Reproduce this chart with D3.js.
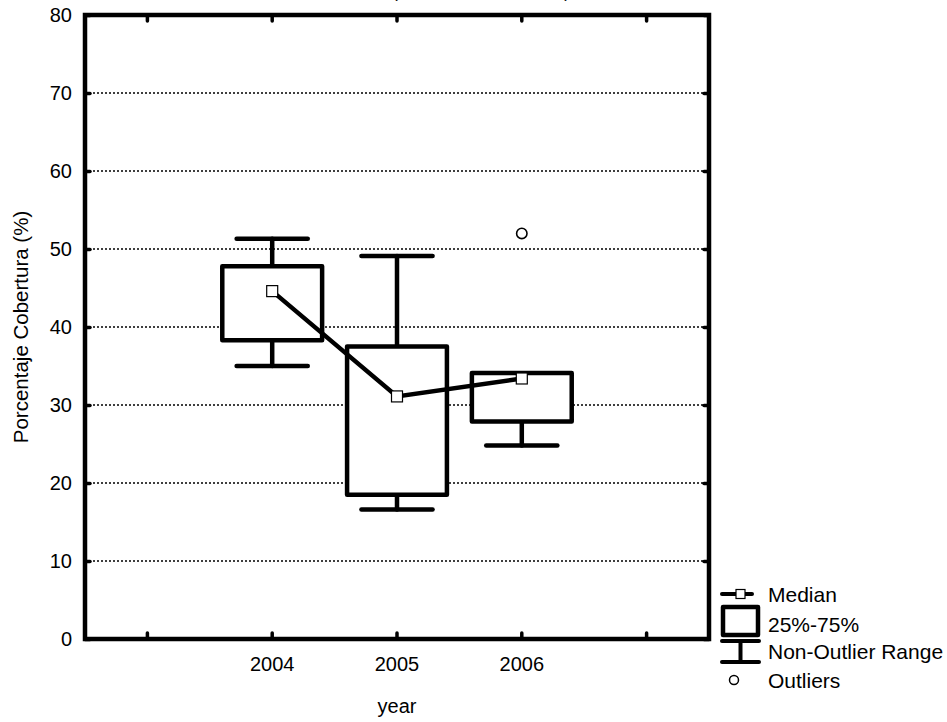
<!DOCTYPE html>
<html>
<head>
<meta charset="utf-8">
<script src="https://cdn.jsdelivr.net/npm/d3@7"></script>
<style>
  html, body { margin: 0; padding: 0; background: #fff; }
  svg { display: block; }
  text { font-family: "Liberation Sans", Arial, sans-serif; fill: #000; }
</style>
</head>
<body>
<svg id="chart" width="947" height="722"></svg>
<script>
// Box plot of coverage percentage by year
const years       = ["2004", "2005", "2006"];
const whiskerLow  = [35.0, 16.6, 24.8];
const q1          = [38.3, 18.5, 27.9];
const median      = [44.6, 31.1, 33.4];
const q3          = [47.8, 37.5, 34.1];
const whiskerHigh = [51.3, 49.1, 34.1];
const outlierYear  = ["2006"];
const outlierValue = [52.0];

const xSlots      = [0, 1, 2, 3, 4];
const xTickLabels = ["", "2004", "2005", "2006", ""];
const yTicks      = [0, 10, 20, 30, 40, 50, 60, 70, 80];
const gridTicks   = [10, 20, 30, 40, 50, 60, 70];
const legendItems = ["Median", "25%-75%", "Non-Outlier Range", "Outliers"];

const plot = { left: 85, right: 709, top: 15, bottom: 639 };

const svg = d3.select("#chart");

const x = d3.scaleBand().domain(xSlots).range([plot.left, plot.right]).padding(0);
const y = d3.scaleLinear().domain([0, 80]).range([plot.bottom, plot.top]);
const slotOf = yr => xTickLabels.indexOf(yr);
const cx = yr => x(slotOf(yr)) + x.bandwidth() / 2;

// heading above the plot, mostly beyond the top edge
svg.append("text")
  .attr("x", 392).attr("y", -2)
  .attr("font-size", 17)
  .attr("textLength", 178)
  .attr("lengthAdjust", "spacingAndGlyphs")
  .text("(Cobertura 2004-2006)");

// dotted horizontal grid
svg.append("g").selectAll("line").data(gridTicks).join("line")
  .attr("x1", plot.left).attr("x2", plot.right)
  .attr("y1", d => y(d)).attr("y2", d => y(d))
  .attr("stroke", "#000").attr("stroke-width", 1.3)
  .attr("stroke-dasharray", "2,2");

// axes with inward ticks
function styleAxis(g) {
  g.select(".domain").remove();
  g.selectAll(".tick line").attr("stroke", "#000").attr("stroke-width", 3.5)
    .attr("stroke-linecap", "round");
  g.selectAll(".tick text").attr("font-size", 20).attr("font-family", "Liberation Sans, Arial, sans-serif");
}

svg.append("g").attr("transform", `translate(${plot.left},0)`)
  .call(d3.axisLeft(y).tickValues(yTicks).tickFormat(d3.format("d")).tickSize(-5).tickPadding(13))
  .call(styleAxis);

svg.append("g").attr("transform", `translate(${plot.right},0)`)
  .call(d3.axisRight(y).tickValues(yTicks).tickFormat("").tickSize(-5))
  .call(styleAxis);

svg.append("g").attr("transform", `translate(0,${plot.bottom})`)
  .call(d3.axisBottom(x).tickFormat(i => xTickLabels[i]).tickSize(-6).tickPadding(18))
  .call(styleAxis);

svg.append("g").attr("transform", `translate(0,${plot.top})`)
  .call(d3.axisTop(x).tickFormat("").tickSize(-6))
  .call(styleAxis);

// plot frame
svg.append("rect")
  .attr("x", plot.left).attr("y", plot.top)
  .attr("width", plot.right - plot.left).attr("height", plot.bottom - plot.top)
  .attr("fill", "none").attr("stroke", "#000").attr("stroke-width", 4.5);

// axis titles
svg.append("text")
  .attr("x", (plot.left + plot.right) / 2).attr("y", 706)
  .attr("text-anchor", "middle").attr("dominant-baseline", "central")
  .attr("font-size", 20).text("year");

svg.append("text")
  .attr("transform", `translate(20,${(plot.top + plot.bottom) / 2}) rotate(-90)`)
  .attr("text-anchor", "middle").attr("dominant-baseline", "central")
  .attr("font-size", 20.5).text("Porcentaje Cobertura (%)");

// boxes and whiskers
const boxW = x.bandwidth() * 0.8;
const capW = x.bandwidth() * 0.57;
const stats = years.map((yr, i) => ({
  yr, lo: whiskerLow[i], q1: q1[i], med: median[i], q3: q3[i], hi: whiskerHigh[i]
}));

const g = svg.append("g")
  .attr("stroke", "#000").attr("stroke-width", 4.5).attr("stroke-linecap", "round");

stats.forEach(s => {
  const c = cx(s.yr);
  if (s.hi > s.q3) {
    g.append("line").attr("x1", c).attr("x2", c).attr("y1", y(s.q3)).attr("y2", y(s.hi));
    g.append("line").attr("x1", c - capW / 2).attr("x2", c + capW / 2).attr("y1", y(s.hi)).attr("y2", y(s.hi));
  }
  if (s.lo < s.q1) {
    g.append("line").attr("x1", c).attr("x2", c).attr("y1", y(s.q1)).attr("y2", y(s.lo));
    g.append("line").attr("x1", c - capW / 2).attr("x2", c + capW / 2).attr("y1", y(s.lo)).attr("y2", y(s.lo));
  }
  g.append("rect")
    .attr("x", c - boxW / 2).attr("y", y(s.q3))
    .attr("width", boxW).attr("height", y(s.q1) - y(s.q3))
    .attr("fill", "#fff").attr("stroke-linejoin", "round");
});

// median line and markers
svg.append("path")
  .datum(stats)
  .attr("d", d3.line().x(d => cx(d.yr)).y(d => y(d.med)))
  .attr("fill", "none").attr("stroke", "#000").attr("stroke-width", 4.5);

svg.append("g").selectAll("rect").data(stats).join("rect")
  .attr("x", d => cx(d.yr) - 5.5).attr("y", d => y(d.med) - 5.5)
  .attr("width", 11).attr("height", 11)
  .attr("fill", "#fff").attr("stroke", "#000").attr("stroke-width", 1.2);

// outliers
svg.append("g").selectAll("circle").data(outlierValue).join("circle")
  .attr("cx", (d, i) => cx(outlierYear[i])).attr("cy", d => y(d))
  .attr("r", 5.2).attr("fill", "#fff").attr("stroke", "#000").attr("stroke-width", 1.6);

// legend
const lg = svg.append("g");
const lx = 722, rx = 759, tx = 768;
const rowY = [594, 624, 651, 680];

lg.append("line").attr("x1", lx).attr("x2", 752).attr("y1", rowY[0]).attr("y2", rowY[0])
  .attr("stroke", "#000").attr("stroke-width", 4).attr("stroke-linecap", "round");
lg.append("rect").attr("x", 736).attr("y", rowY[0] - 4.5).attr("width", 9).attr("height", 9)
  .attr("fill", "#fff").attr("stroke", "#000").attr("stroke-width", 1.2);

lg.append("rect").attr("x", lx + 1).attr("y", 607).attr("width", rx - lx - 2).attr("height", 28)
  .attr("fill", "#fff").attr("stroke", "#000").attr("stroke-width", 4.5).attr("stroke-linejoin", "round");

lg.append("line").attr("x1", lx).attr("x2", rx).attr("y1", 641).attr("y2", 641)
  .attr("stroke", "#000").attr("stroke-width", 4).attr("stroke-linecap", "round");
lg.append("line").attr("x1", (lx + rx) / 2).attr("x2", (lx + rx) / 2).attr("y1", 641).attr("y2", 662)
  .attr("stroke", "#000").attr("stroke-width", 4);
lg.append("line").attr("x1", lx).attr("x2", rx).attr("y1", 662).attr("y2", 662)
  .attr("stroke", "#000").attr("stroke-width", 4).attr("stroke-linecap", "round");

lg.append("circle").attr("cx", 734).attr("cy", rowY[3]).attr("r", 4.5)
  .attr("fill", "#fff").attr("stroke", "#000").attr("stroke-width", 1.5);

lg.selectAll("text").data(legendItems).join("text")
  .attr("x", tx).attr("y", (d, i) => rowY[i])
  .attr("dominant-baseline", "central")
  .attr("font-size", 21)
  .text(d => d);
</script>
</body>
</html>
